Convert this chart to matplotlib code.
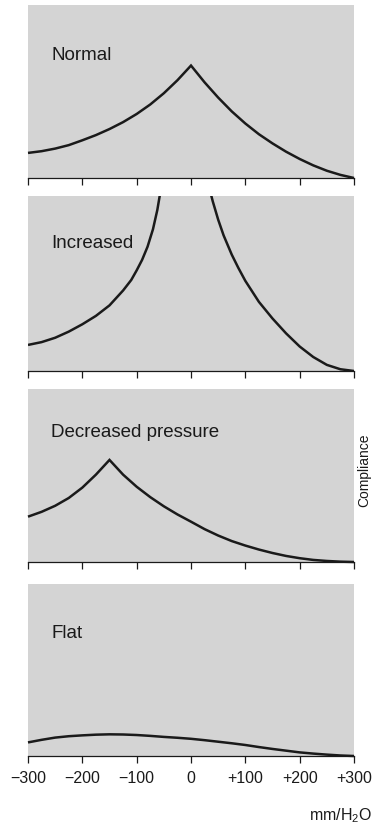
import numpy as np
import matplotlib
matplotlib.use("Agg")
import matplotlib.pyplot as plt

plt.rcParams['font.family'] = ['Liberation Sans', 'DejaVu Sans']

# pressure axis (mm/H2O)
tick_values = [-300, -200, -100, 0, 100, 200, 300]
tick_labels = ['\u2212300', '\u2212200', '\u2212100', '0', '+100', '+200', '+300']

# Normal: peak at 0
normal_x = [-300, -275, -250, -225, -200, -175, -150, -125, -100, -75, -50, -25, 0,
            25, 50, 75, 100, 125, 150, 175, 200, 225, 250, 275, 300]
normal_y = [0.145, 0.155, 0.17, 0.19, 0.218, 0.248, 0.283, 0.323, 0.37, 0.425, 0.49, 0.565, 0.65,
            0.553, 0.465, 0.385, 0.315, 0.253, 0.2, 0.152, 0.11, 0.073, 0.042, 0.018, 0.0]

# Increased: both branches run off the top
incr_left_x = [-300, -275, -250, -225, -200, -175, -150, -125, -110, -100, -90, -80, -70, -62, -56]
incr_left_y = [0.149, 0.165, 0.19, 0.225, 0.267, 0.315, 0.375, 0.46, 0.52, 0.575, 0.635, 0.71, 0.81, 0.92, 1.03]
incr_right_x = [35, 40, 50, 60, 75, 87, 100, 125, 150, 175, 200, 225, 250, 275, 300]
incr_right_y = [1.03, 0.97, 0.865, 0.775, 0.665, 0.59, 0.515, 0.395, 0.3, 0.215, 0.14, 0.08, 0.035, 0.01, 0.0]

# Decreased pressure: peak at -150
decr_x = [-300, -275, -250, -225, -200, -175, -150, -125, -100, -75, -50, -25, 0,
          25, 50, 75, 100, 125, 150, 175, 200, 225, 250, 275, 300]
decr_y = [0.262, 0.29, 0.325, 0.37, 0.43, 0.505, 0.59, 0.505, 0.435, 0.375, 0.322, 0.275, 0.233,
          0.19, 0.153, 0.121, 0.095, 0.072, 0.052, 0.035, 0.022, 0.012, 0.006, 0.002, 0.0]

# Flat
flat_x = [-300, -275, -250, -225, -200, -175, -150, -125, -100, -75, -50, -25, 0,
          25, 50, 75, 100, 125, 150, 175, 200, 225, 250, 275, 300]
flat_y = [0.079, 0.094, 0.107, 0.115, 0.12, 0.124, 0.126, 0.125, 0.122, 0.117, 0.111, 0.106, 0.1,
          0.092, 0.083, 0.074, 0.064, 0.052, 0.041, 0.031, 0.021, 0.014, 0.008, 0.003, 0.0]

labels = ['Normal', 'Increased', 'Decreased pressure', 'Flat']
label_y = [0.69, 0.71, 0.728, 0.69]

grey = '#d4d4d4'
ink = '#1a1a1a'

fig = plt.figure(figsize=(3.72, 8.29), dpi=100)

W, H = 372.0, 829.0
# (top px, axis px) for each panel
panel_px = [(6, 179), (197, 372), (390, 563), (585, 757)]
left_px, right_px = 28, 354

axes = []
for top, bot in panel_px:
    ax = fig.add_axes([left_px / W, (H - bot) / H, (right_px - left_px) / W, (bot - top) / H])
    ax.set_facecolor(grey)
    ax.set_xlim(-300, 300)
    ax.set_ylim(0, 1)
    for s in ['top', 'left', 'right']:
        ax.spines[s].set_visible(False)
    ax.spines['bottom'].set_color(ink)
    ax.spines['bottom'].set_linewidth(0.9)
    ax.set_yticks([])
    ax.set_xticks(tick_values)
    ax.tick_params(axis='x', direction='out', length=5, width=0.9, color=ink,
                   labelsize=11.5, labelcolor=ink, pad=5)
    ax.set_xticklabels([])
    axes.append(ax)

style = dict(color=ink, lw=1.8, solid_joinstyle='miter', solid_capstyle='butt')
axes[0].plot(normal_x, normal_y, clip_on=False, **style)
axes[1].plot(incr_left_x, incr_left_y, **style)
axes[1].plot(incr_right_x, incr_right_y, **style)
axes[2].plot(decr_x, decr_y, clip_on=False, **style)
axes[3].plot(flat_x, flat_y, clip_on=False, **style)

for ax, lab, ly in zip(axes, labels, label_y):
    ax.text(0.072, ly, lab, transform=ax.transAxes, fontsize=13.5, color=ink,
            ha='left', va='baseline')

axes[3].set_xticklabels(tick_labels)

fig.text(1.0, (H - 820) / H, r'mm/H$_\mathregular{2}$O', ha='right', va='baseline',
         fontsize=11.5, color=ink)

# axis title of the neighbouring figure, squeezed in at the right edge
fig.text(371 / W, (H - 470) / H, 'Compliance', rotation=90, ha='right', va='center',
         fontsize=10, color=ink)

fig.savefig('out.png', dpi=100)
